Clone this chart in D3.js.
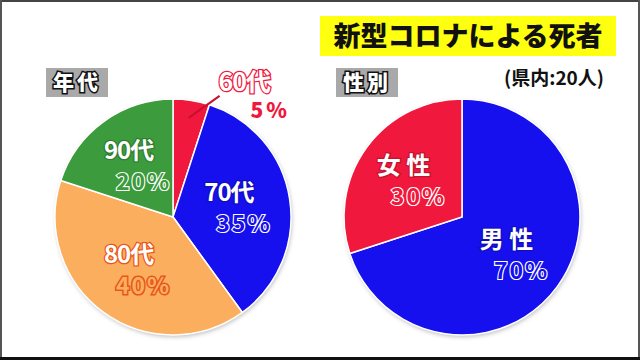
<!DOCTYPE html>
<html><head><meta charset="utf-8">
<script src="https://cdn.jsdelivr.net/npm/d3@7/dist/d3.min.js"></script>
<style>
html,body{margin:0;padding:0;background:#fff;}
svg{display:block;font-family:"Noto Sans CJK JP","Noto Sans",sans-serif;}
</style></head><body>
<script>
const title = "新型コロナによる死者";
const subtitle = "(県内:20人)";
const ageTitle = "年代";
const ageCategories = ["60代", "70代", "80代", "90代"];
const ageValues = [5, 35, 40, 20];
const ageColors = ["#f0183c", "#1610ee", "#fbae5e", "#3c9b3c"];
const sexTitle = "性別";
const sexCategories = ["男性", "女性"];
const sexDisplay = ["男 性", "女 性"];
const sexValues = [70, 30];
const sexColors = ["#1610ee", "#f0183c"];

const W = 640, H = 360;
const svg = d3.select("body").append("svg").attr("width", W).attr("height", H);

const defs = svg.append("defs");
const f = defs.append("filter").attr("id","sh").attr("x","-20%").attr("y","-20%").attr("width","140%").attr("height","140%");
f.append("feDropShadow").attr("dx",1).attr("dy",2).attr("stdDeviation",2).attr("flood-color","#000").attr("flood-opacity",0.25);

// frame
svg.append("rect").attr("x",0).attr("y",0).attr("width",W).attr("height",H).attr("fill","#fff");
svg.append("rect").attr("x",0).attr("y",0).attr("width",W).attr("height",2).attr("fill","#444");
svg.append("rect").attr("x",0).attr("y",0).attr("width",2).attr("height",H).attr("fill","#555");
svg.append("rect").attr("x",W-2).attr("y",0).attr("width",2).attr("height",H).attr("fill","#555");
svg.append("rect").attr("x",0).attr("y",H-3).attr("width",W).attr("height",3).attr("fill","#111");

// title
svg.append("rect").attr("x",320).attr("y",16).attr("width",296).attr("height",40).attr("fill","#ffff10");
svg.append("text").attr("x",468).attr("y",46).attr("text-anchor","middle")
  .attr("font-size",27).attr("font-weight",900).attr("fill","#111").text(title);
svg.append("text").attr("x",604).attr("y",85).attr("text-anchor","end")
  .attr("font-size",19).attr("font-weight",700).attr("fill","#111").text(subtitle);

function tag(x, y, txt){
  svg.append("rect").attr("x",x).attr("y",y).attr("width",62).attr("height",29).attr("fill","#a9a9a9");
  svg.append("text").attr("x",x+31).attr("y",y+22).attr("text-anchor","middle")
    .attr("font-size",21).attr("font-weight",900).attr("letter-spacing","3px")
    .attr("fill","#fff").attr("stroke","#111").attr("stroke-width",3).attr("paint-order","stroke")
    .text(txt);
}
tag(46, 68, ageTitle);
tag(336, 68, sexTitle);

const R = 118;
const pie = d3.pie().sort(null).value(d => d.v);
const arc = d3.arc().innerRadius(0).outerRadius(R);
const labelArc = d3.arc().innerRadius(R*0.54).outerRadius(R*0.54);
const darker = c => d3.color(c).darker(0.6).formatHex();

function drawPie(cx, cy, cats, disp, vals, cols){
  const data = cats.map((c,i)=>({c, t:disp[i], v:vals[i], col:cols[i]}));
  const arcs = pie(data);
  const g = svg.append("g").attr("transform",`translate(${cx},${cy})`);
  g.append("circle").attr("r",R).attr("fill","#fff").attr("filter","url(#sh)");
  g.selectAll("path.s").data(arcs).join("path").attr("class","s")
    .attr("d",arc).attr("fill",d=>d.data.col).attr("stroke","#fff").attr("stroke-width",1.5);
  const total = d3.sum(vals);
  arcs.forEach(a=>{
    const pct = Math.round(a.data.v/total*100) + "%";
    const isOrange = a.data.col === "#fbae5e";
    const outline = isOrange ? "#e8561c" : darker(a.data.col);
    if (a.data.v/total < 0.1) {
      const mid = (a.startAngle+a.endAngle)/2;
      const p1 = [Math.sin(mid)*R*0.85, -Math.cos(mid)*R*0.85];
      const a2 = mid + 0.21;
      const p2 = [Math.sin(a2)*R*1.1, -Math.cos(a2)*R*1.1];
      g.append("line").attr("x1",p1[0]).attr("y1",p1[1]).attr("x2",p2[0]).attr("y2",p2[1])
        .attr("stroke","#c8102e").attr("stroke-width",2);
      g.append("text").attr("x",p2[0]-1).attr("y",p2[1]-5).attr("font-size",25).attr("font-weight",700)
        .attr("fill","#fff").attr("stroke",a.data.col).attr("stroke-width",2.5).attr("paint-order","stroke")
        .attr("letter-spacing","-1px").text(a.data.t);
      g.append("text").attr("x",p2[0]+31).attr("y",p2[1]+22).attr("font-size",21).attr("font-weight",900)
        .attr("fill",a.data.col).attr("letter-spacing","3px").text(pct);
    } else {
      const [x,y] = labelArc.centroid(a);
      g.append("text").attr("x",x-7).attr("y",y-6).attr("text-anchor","middle")
        .attr("font-size",24).attr("font-weight",700).attr("letter-spacing", a.data.t.includes(" ")?"0px":"-1px")
        .attr("fill","#fff").attr("stroke",outline).attr("stroke-width",2.5).attr("paint-order","stroke")
        .text(a.data.t);
      g.append("text").attr("x",x+8).attr("y",y+25).attr("text-anchor","middle")
        .attr("font-size",23).attr("font-weight",700).attr("letter-spacing","2px")
        .attr("fill", a.data.col).attr("stroke", isOrange ? outline : "#fff").attr("stroke-width",isOrange?3:2.2)
        .attr("paint-order","stroke").text(pct);
    }
  });
}
drawPie(173, 217, ageCategories, ageCategories, ageValues, ageColors);
drawPie(462, 217, sexCategories, sexDisplay, sexValues, sexColors);
</script>
</body></html>
